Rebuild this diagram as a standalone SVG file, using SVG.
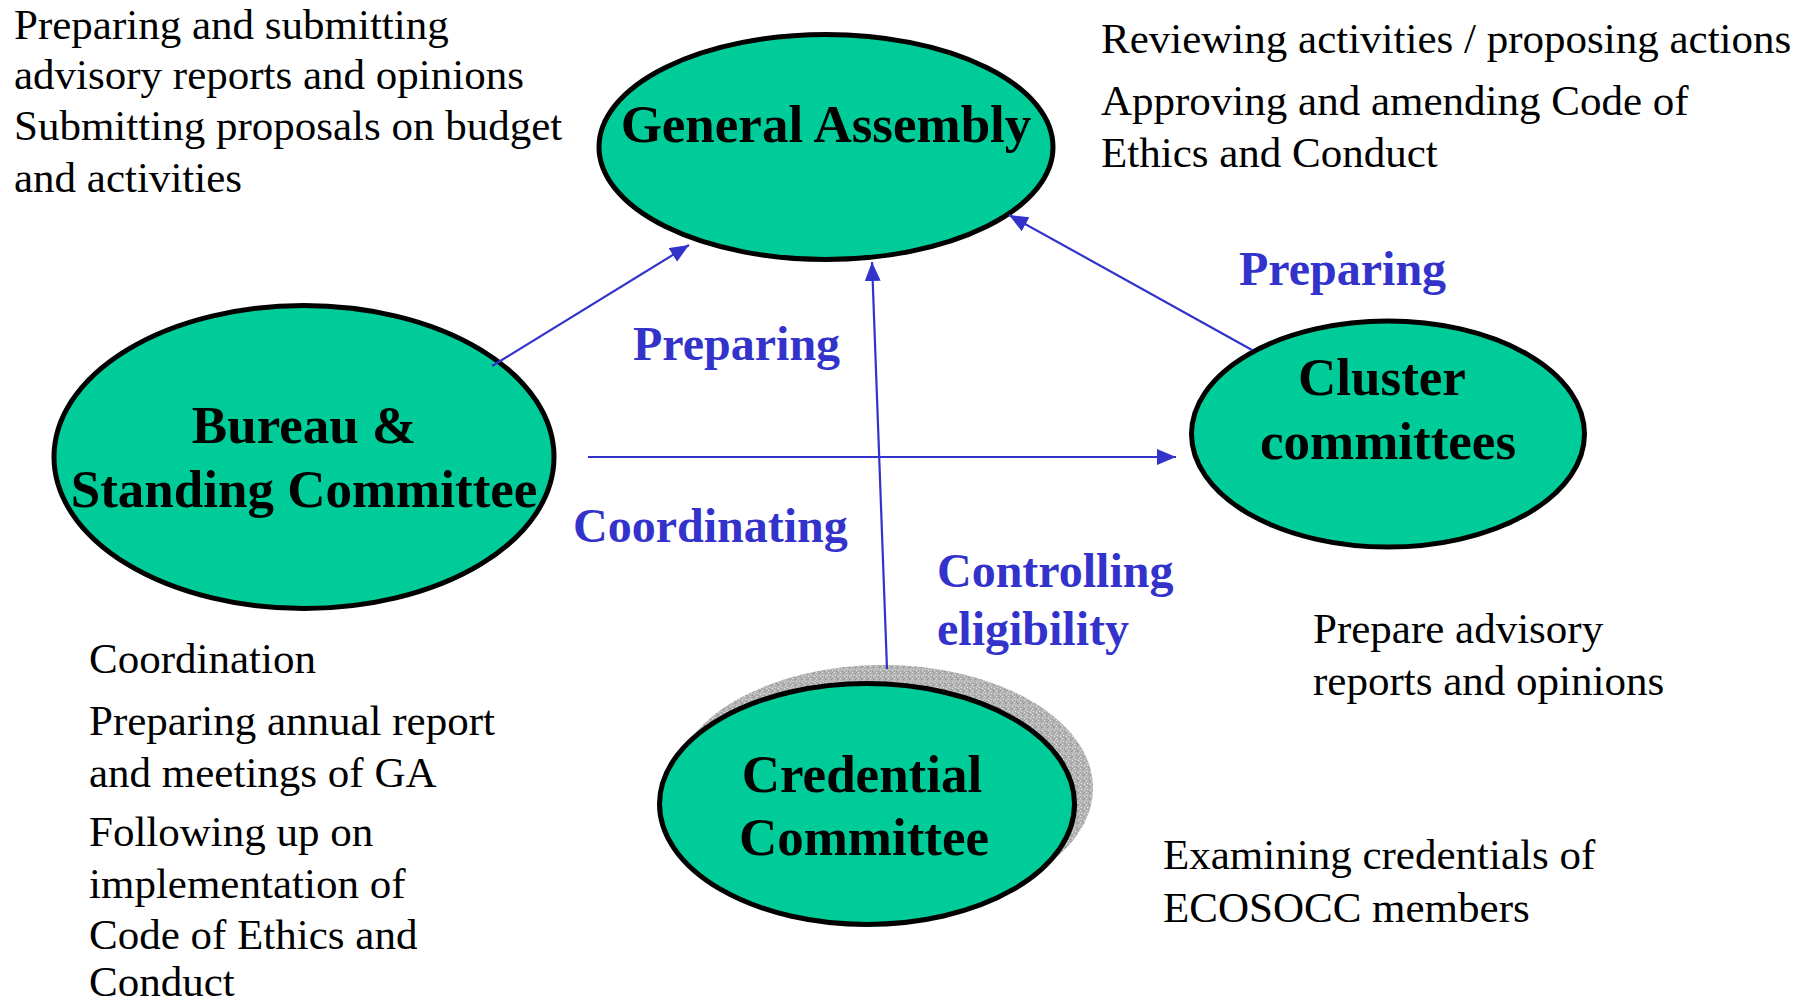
<svg xmlns="http://www.w3.org/2000/svg" width="1813" height="1006" viewBox="0 0 1813 1006">
<style>
.node{fill:#00CC99;stroke:#000;stroke-width:5}
.nt{font-family:"Liberation Serif","Times New Roman",serif;font-weight:bold;font-size:53px;fill:#000;text-anchor:middle}
.lbl{font-family:"Liberation Serif","Times New Roman",serif;font-weight:bold;font-size:48px;fill:#3333CC}
.txt{font-family:"Liberation Serif","Times New Roman",serif;font-size:43px;fill:#000}
.conn{stroke:#3333CC;stroke-width:2.2;fill:none;marker-end:url(#ah)}
</style>
<defs>
<marker id="ah" markerUnits="userSpaceOnUse" markerWidth="20" markerHeight="16" refX="19" refY="8" orient="auto">
<path d="M0,0 L19,8 L0,16 z" fill="#3333CC"/>
</marker>
<pattern id="speck" width="6" height="6" patternUnits="userSpaceOnUse">
<rect width="6" height="6" fill="#b4b4b4"/>
<rect x="0" y="0" width="1" height="1" fill="#e6e6e6"/>
<rect x="3" y="1" width="1" height="1" fill="#8a8a8a"/>
<rect x="1" y="3" width="1" height="1" fill="#dcdcdc"/>
<rect x="4" y="4" width="1" height="1" fill="#e8e8e8"/>
<rect x="2" y="5" width="1" height="1" fill="#909090"/>
<rect x="5" y="2" width="1" height="1" fill="#d0d0d0"/>
<rect x="4" y="0" width="1" height="1" fill="#9c9c9c"/>
<rect x="0" y="4" width="1" height="1" fill="#a0a0a0"/>
</pattern>
</defs>

<g id="text-top-left" class="txt">
<text x="14" y="39">Preparing and submitting</text>
<text x="14" y="89">advisory reports and opinions</text>
<text x="14" y="140">Submitting proposals on budget</text>
<text x="14" y="192">and activities</text>
</g>
<g id="text-top-right" class="txt">
<text x="1101" y="53">Reviewing activities / proposing actions</text>
<text x="1101" y="115">Approving and amending Code of</text>
<text x="1101" y="167">Ethics and Conduct</text>
</g>
<g id="text-bottom-left" class="txt">
<text x="89" y="673">Coordination</text>
<text x="89" y="735">Preparing annual report</text>
<text x="89" y="787">and meetings of GA</text>
<text x="89" y="846">Following up on</text>
<text x="89" y="898">implementation of</text>
<text x="89" y="949">Code of Ethics and</text>
<text x="89" y="996">Conduct</text>
</g>
<g id="text-right" class="txt">
<text x="1313" y="643">Prepare advisory</text>
<text x="1313" y="695">reports and opinions</text>
<text x="1163" y="869">Examining credentials of</text>
<text x="1163" y="922">ECOSOCC members</text>
</g>

<g id="general-assembly">
<ellipse class="node" cx="826" cy="147" rx="227" ry="112.5"/>
<text class="nt" x="826" y="142">General Assembly</text>
</g>
<g id="bureau">
<ellipse class="node" cx="304" cy="457" rx="250" ry="151.5"/>
<text class="nt" x="304" y="443">Bureau &amp;</text>
<text class="nt" x="304" y="507">Standing Committee</text>
</g>
<g id="cluster">
<ellipse class="node" cx="1388" cy="434" rx="196.5" ry="113"/>
<text class="nt" x="1382" y="395">Cluster</text>
<text class="nt" x="1388" y="459">committees</text>
</g>
<g id="credential">
<ellipse cx="883" cy="788" rx="210" ry="123" fill="url(#speck)"/>
<ellipse class="node" cx="867" cy="804" rx="207.5" ry="120.5"/>
<text class="nt" x="862" y="792">Credential</text>
<text class="nt" x="864" y="855">Committee</text>
</g>

<g id="connectors">
<line class="conn" x1="492" y1="366" x2="689" y2="245"/>
<line class="conn" x1="1252" y1="350" x2="1009" y2="215"/>
<line class="conn" x1="887" y1="669" x2="872" y2="262"/>
<line class="conn" x1="588" y1="457" x2="1176" y2="457"/>
</g>

<g id="labels" class="lbl">
<text x="633" y="360">Preparing</text>
<text x="1239" y="285">Preparing</text>
<text x="573" y="542">Coordinating</text>
<text x="937" y="587">Controlling</text>
<text x="937" y="645">eligibility</text>
</g>
</svg>
